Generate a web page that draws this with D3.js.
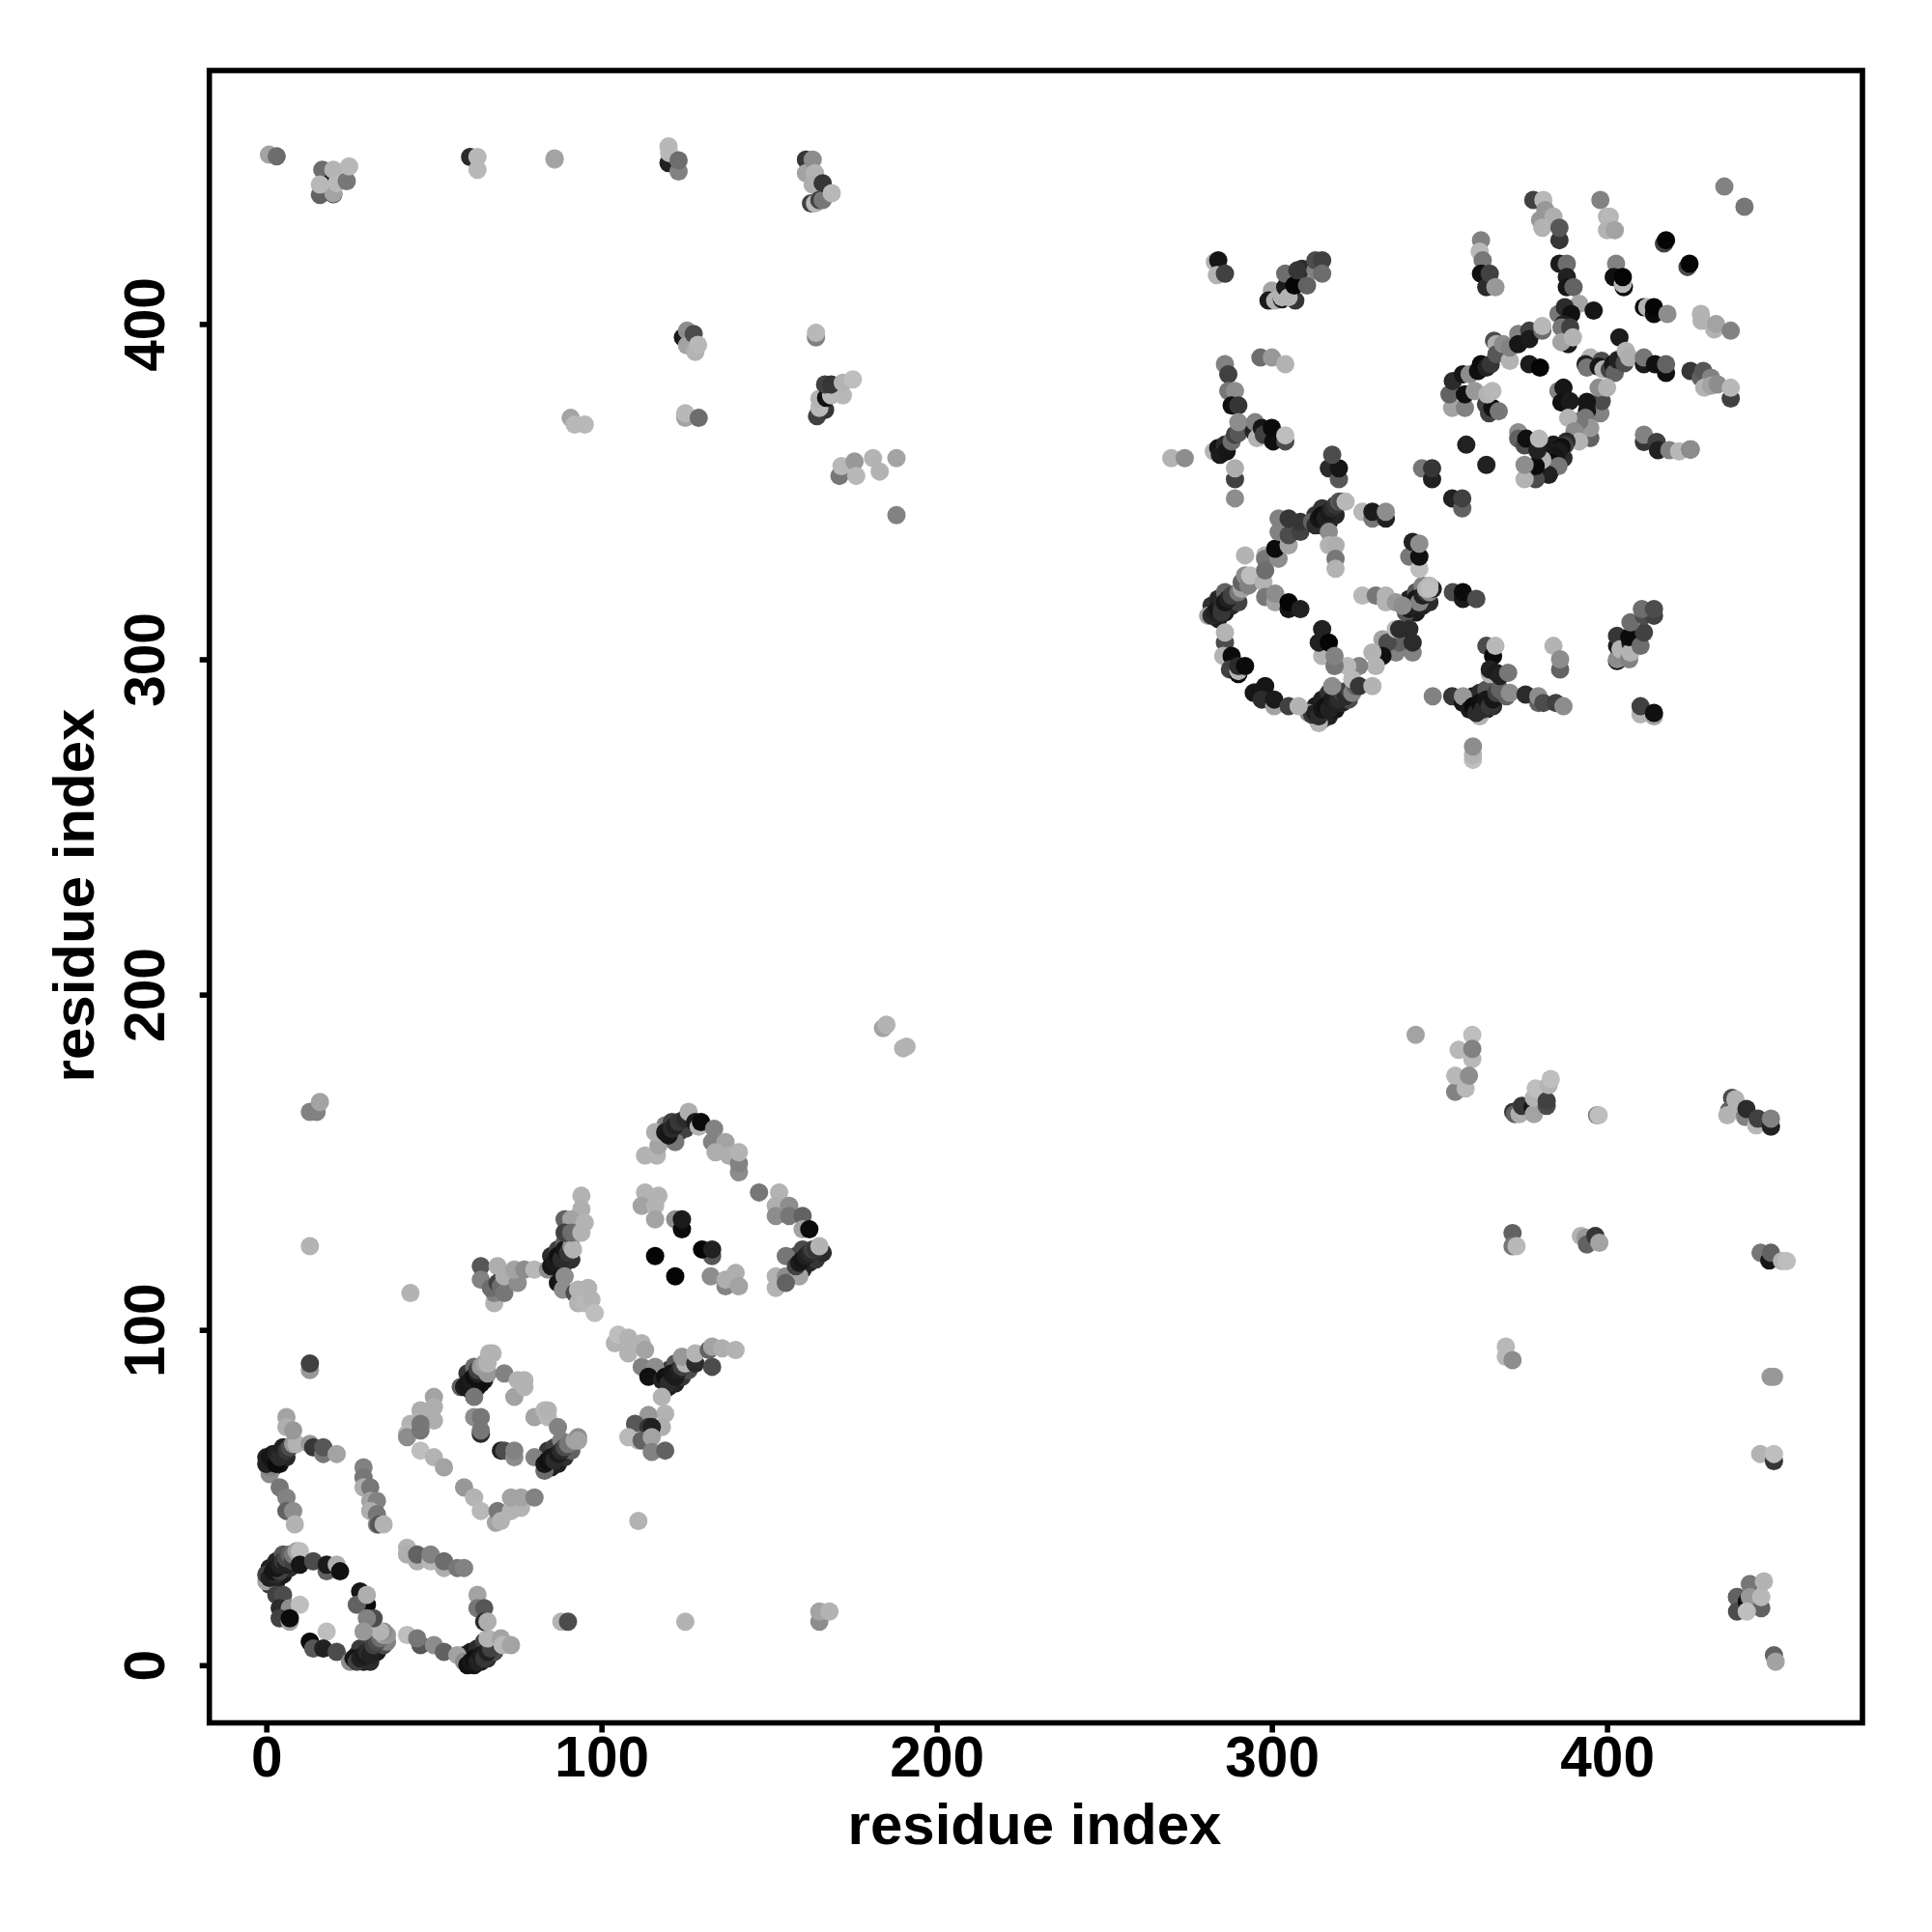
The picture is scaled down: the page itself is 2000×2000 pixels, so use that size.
<!DOCTYPE html>
<html><head><meta charset="utf-8"><script src="https://cdnjs.cloudflare.com/ajax/libs/d3/7.8.5/d3.min.js"></script>
<style>html,body{margin:0;background:#fff}svg{display:block}text{font-family:"Liberation Sans",Arial,sans-serif;font-weight:bold;fill:#000}</style>
</head><body><svg id="c" width="2000" height="2000"></svg>
<script>
const tickValues=[0,100,200,300,400];
const axisTitle="residue index";
// each contact: [residue x, residue y, grey level]
const strandWidth=[[2,59,25],[4,60,20],[5,62,30],[6,62,35],[0,62,30],[2,63,25],[1,24,50],[3,25,30],[5,27,25],[7,29,40],[1,29,30],[3,31,35],[5,33,80],[7,31,70],[27,3,35],[29,1,30],[31,1,40],[33,4,25],[35,6,70],[30,6,50],[28,5,55],[32,8,90],[36,7,120],[62,0,20],[64,1,25],[66,2,40],[68,4,70],[59,3,30],[61,4,25],[63,5,40],[65,7,60],[68,6,110],[85,59,25],[87,60,30],[89,62,45],[91,64,90],[84,64,50],[86,65,60],[88,67,120],[61,82,25],[63,83,20],[65,85,30],[66,87,60],[60,87,50],[62,89,100],[87,118,25],[89,120,35],[91,121,45],[85,122,40],[87,124,60],[89,126,90],[120,83,25],[122,84,30],[124,86,50],[126,88,70],[118,87,40],[120,88,50],[122,90,80],[121,157,30],[123,159,40],[125,160,60],[119,161,120],[121,162,60],[160,118,30],[162,120,35],[164,121,50],[158,122,60],[160,124,70],[166,123,40],[284,312,30],[286,314,25],[288,316,35],[290,317,60],[282,316,45],[284,318,35],[286,320,90],[315,340,25],[317,341,20],[319,343,35],[313,343,50],[315,345,50],[343,314,25],[345,316,30],[347,317,40],[341,318,30],[343,320,80],[345,322,120],[315,282,40],[317,283,30],[319,285,20],[321,287,35],[323,288,70],[313,286,25],[315,288,30],[317,290,45],[319,291,80],[362,284,30],[364,285,25],[366,286,40],[358,288,30],[360,289,25],[362,290,40],[364,291,80],[381,356,20],[383,356,30],[385,359,30],[387,360,40],[380,361,70],[382,362,15],[384,364,25]];
const blockA=[[0,25,150],[0,27,60],[1,26,30],[3,27,40],[2,28,20],[4,28,60],[3,29,20],[4,30,30],[5,31,50],[6,30,30],[6,32,70],[7,33,90],[8,31,60],[8,33,110],[10,32,150],[9,34,150],[10,34,175],[10,30,20],[14,31,70],[18,28,90],[18,30,25],[21,30,160],[22,28,15],[3,21,60],[5,21,70],[4,17,40],[7,17,130],[10,18,175],[4,14,60],[7,13,150],[7,14,10],[13,7,130],[13,7,10],[18,10,175],[14,5,80],[17,5,30],[21,4,70],[25,1,130],[26,2,20],[27,1,60],[28,2,30],[29,3,25],[30,4,40],[31,3,30],[32,6,60],[33,7,70],[34,8,100],[35,9,150],[36,9,140],[35,10,130],[34,10,165],[28,22,20],[30,18,10],[27,18,90],[30,21,160],[32,14,70],[30,14,120],[29,10,140]];
const blockB=[[29,59,120],[29,56,110],[29,53,160],[31,53,110],[31,49,150],[33,49,120],[31,46,160],[33,45,110],[33,42,130],[33.5,42,80],[35,42,165],[1,57,130],[1,59,120],[0,60,30],[1,62,20],[2,61,20],[3,60,10],[3,63,30],[4,62,40],[5,65,30],[6,64,50],[7,65,70],[8,66,140],[9,66,165],[6,74,150],[6,71,160],[8,70,140],[4,53,110],[6,50,120],[6,46,90],[8,46,130],[8.5,42,165],[13,66,140],[14,65,50],[17,63,110],[17,65,80],[21,63,150],[13,88,140],[13,90,60],[43,111,165],[111,43,165],[42,35,165],[42,33,160],[45,31,160],[45,33,90],[49,31,170],[49,33,120],[53,29,160],[53,31,100],[57,29,110],[59,29,120],[42,9,175],[46,6,80],[45,8,110],[50,6,130],[53,4,90],[57,3,150],[59,1,130],[60,0,15],[61,1,20],[62,2,15],[63,1,30],[64,3,25],[65,2,50],[66,4,30],[67,5,60],[66,8,165],[63,21,150],[63,17,110],[65,17,80],[65,13,40],[66,13,160],[70,8,150],[70.5,6,170],[73,6,150],[88,13,165],[90,13,70],[125,13,165]];
const blockC=[[50,80,150],[50,77,160],[50,73,160],[46,76,160],[43,72,165],[46,72,110],[42,69,170],[42,68,130],[46,70,110],[46,64,175],[50,62,165],[53,59,150],[59,53,140],[62,50,165],[64,46,170],[68.5,42.5,150],[69,46,110],[70,43,165],[73,46,165],[76,47,165],[73,50,150],[76,50,150],[80,50,120],[62,74,130],[64,69,40],[64,70,110],[64,74,110],[70,64,30],[71,64,70],[74,62,130],[74,64,120],[80,74,150],[83,76,170],[84,74,170],[84,76,165],[87,71,120],[80,62,120],[83,58,100],[83,60,20],[84,61,15],[85,62,20],[86,61,40],[87,63,25],[88,64,40],[89,65,70],[90,66,110],[92,67,150],[93,68,130],[93,67,150],[58,83,90],[59,83,25],[60,84,20],[61,85,25],[64,84,15],[62,86,15],[63,87,30],[63,88,60],[64,89,140],[66,87,140],[65,90,150],[66,90,165],[66.5,93,165],[67.5,93,165],[62,80,110],[71,87,120],[74,80,150],[77,83,165],[75,85,165],[77,85,165]];
const blockD=[[64,119,80],[69,119,160],[64,115,120],[68,108,165],[68,111,120],[67,112.5,100],[69,114,60],[70,113,100],[71,111,110],[71,116,160],[75,114,130],[74,118,150],[77,118,130],[80,118,170],[84,118,130],[87,114,20],[85,119,20],[86,120,25],[87,122,15],[88,121,40],[89,124,20],[90,123,50],[91,125,130],[91.5,124,165],[89,116,130],[88.5,112,130],[94,140,165],[94,136,160],[89,133,90],[91,133,150],[95,132,165],[89,129,60],[91,129,100],[94,129,165],[92,111,70],[93,112,165],[96,112.5,165],[93,108,165],[95,108,170],[97,109,165],[98,105,175],[104,96,165],[105,98.6,175],[108,93,165],[108,97.7,165],[112,96,165],[112,89,120],[113,94,150],[116,89,130],[114,86,15],[118,85,30],[119,86,15],[120,84,40],[121,87,20],[122,86,25],[123,88,30],[124,89,60],[125,91,120],[125,90,165],[124,92,140],[128,90,40],[128,93,165],[133,89,70],[132,94,90],[133,95,150],[136,94.5,160],[140,94,165],[118,80,165],[119,75,165],[114,74.6,140],[118,71,160],[110,72,80],[114,71,50],[115,71,30],[111,67,170],[108,68,170],[112,67,90],[115,68,150],[115,63.6,120],[119,64,90]];
const blockE=[[113,152,165],[116.5,152,165],[117,155,150],[116,159,160],[122,156,110],[119,159,25],[120,158,20],[121,160,40],[122,161,30],[123,162,50],[125,163,40],[126,165,160],[128,162,25],[129,160.6,165],[129.7,162,10],[133.6,160,120],[133,156,120],[137,156,150],[134,153,160],[138,152,160],[141,147,130],[141,149.6,120],[141,153,165],[113,141,165],[112,137,150],[117,140,165],[116,137,165],[116,133,150],[122,133,130],[124,130,10],[124,133,25],[116,122,5],[122,116,5],[133,122,80],[130,124,5],[133,124,30],[132.6,116,130],[137,113,120],[137,115,160],[140,117,160],[141,113,150],[147,141,110],[153,141,165],[152,137,160],[156,137,130],[152,134,130],[156,134,110],[160,134,90],[160,130,150],[162,130,10],[155,122,110],[152,112.5,165],[152,116,165],[155,116,130],[159,116,150],[155,114,90],[158,119,60],[159,120,25],[160,121,20],[161,122,30],[162,123,40],[163,124,60],[164,124,50],[165,125,165],[13,125,165],[13,165,120],[15,165,120],[16,168,150],[165,13,130],[165,16,150],[168,16,165],[184,190,150],[185,191,165],[190,184,165],[191,184.5,165]];
const topLeft=[[0.8,450.5,150],[3.1,450,100],[16.7,446,100],[16,438.5,90],[20,438.7,70],[19,442,20],[20,439,150],[20,446,165],[16,441.6,170],[21,442,170],[24,442.6,110],[24.7,447,170],[60.8,449.8,40],[63,446,170],[63,449.8,170],[86,449,165],[86,449.4,150],[120,448,30],[120,453,170],[120.2,451,170],[123,445.5,120],[123,448.8,100],[161,449,50],[161,445,150],[163,449,130],[163.7,445,165],[163,441.6,160],[162.5,436,60],[163.7,436,170],[165,437,60],[166,437,110],[166,442,50],[168.7,439,170],[124.3,396,25],[125.5,398,130],[125.5,393.6,150],[128,391.7,165],[127.5,397,70],[128.8,393.8,170],[164,396,120],[164,397.4,170],[125,372,150],[125,373.4,170],[129,372,100],[90.8,372,150],[92,370,170],[95,370,170],[164.3,372.5,60],[166.7,374.4,50],[165,375,170],[165,377.7,165],[167,378,15],[168.5,378.7,170],[172,378.7,170],[166.7,382,60],[168.5,382,50],[172,382.5,165],[175,383.5,175],[171,354.7,110],[171.6,357.6,170],[175.5,359,140],[176,354.7,170],[181,360,165],[183,356,165],[188,360,150],[188,343,120]];
const bottomRight=[[342.9,188,150],[359.8,188,175],[355.7,183.5,170],[359.8,180.8,170],[359.8,183.8,120],[354.7,171,120],[354.7,175.8,170],[357.8,172,170],[358.8,175.8,130],[372,165,50],[372.5,164.4,90],[373.9,164.4,160],[374.6,166.8,50],[377.8,166.4,20],[378.2,164.4,150],[378.2,169.2,165],[378.7,172,175],[382,166.8,70],[382,168.3,60],[382.6,173,165],[383.2,174.8,175],[397,164,120],[397.5,164,175],[437.3,169.2,70],[436.4,165.4,90],[435.9,164,165],[438.3,168.8,165],[438.8,167.3,165],[441.2,163.5,120],[441.6,165.9,40],[444.5,161,170],[445,163,60],[448.9,160.6,30],[448.9,163,120],[371.8,128.9,90],[371.8,125,110],[373,125,170],[392.2,128,165],[393.6,127.5,140],[394,125.5,90],[396.5,128,50],[397.7,126,150],[445.8,123,110],[448.4,120.7,20],[448.9,123,90],[452.2,120.5,165],[453.6,120.5,175],[369.8,95,170],[369.8,92,170],[371.8,91,130],[448.8,86,140],[449.8,86,140],[445.7,63,165],[449.8,60.9,50],[449.8,63,175],[438.8,20.3,60],[438.8,20.3,90],[438.8,16,70],[441.7,18.9,15],[442.6,24.2,110],[442.6,20.3,140],[446,17,90],[441.7,16,175],[446,20.3,170],[446.8,25,165],[449.8,3,90],[450.3,1,150]];
const ringA=[[289,348,130],[289,353.7,60],[289,357,160],[317,357,40],[320,353.7,80],[320,357,20],[318,361,70],[344.8,357,110],[347.8,353.7,30],[347.8,357,50],[353.8,348,30],[356.8,345,90],[356.8,348,60],[364,358,30],[358,364,30],[281,313,150],[282,313,40],[283,314,30],[284,315,20],[285,316,40],[285,314,50],[286,317,20],[287,318,30],[288,319,60],[290,320,110],[291,321,150],[291,323,90],[292,325,130],[293,322,120],[292,331,165],[293.5,325,175],[297.5,323,165],[298,331,165],[298,330,110],[298,326.5,100],[302,330,130],[301,333,10],[302,342,120],[302,338,120],[305,334,150],[305,337,70],[305,342,50],[308.5,338,60],[308.5,341,50],[298,318.6,110],[301,317,150],[301,319.6,130],[305,315,20],[305,317,5],[308.5,315,30],[312,341,90],[313,340,40],[314,342,20],[315,343,15],[316,342,30],[317,344,25],[318,345,40],[319,346,50],[320,347,80],[321,347,70],[322,347,170],[317,338,130],[317,334,165],[319,334,160],[319,330,110],[319,327,165],[327,344,170],[330,342,110],[330,344,25],[334,342,30],[334,344,130],[341,330.6,110],[342,335,30],[344,327,175],[344,330.6,15],[344,334.5,130],[340,314,80],[341,315,25],[342,316,30],[343,318,20],[344,317,120],[345,319,30],[346,320,50],[347,320,130],[348,321,30],[346,321,165],[347,322,170],[347,321,175],[354,320,70],[357,318,25],[357,320,10],[361,318,70]];
const ringB=[[327,319,170],[331,319,110],[334,317,165],[334,319,165],[337,317,140],[339,316,130],[333,306,150],[337,302,120],[342,302,120],[338,305,90],[334.5,305,70],[337,309,170],[338,309,40],[341,309,40],[342,305,40],[333,301,15],[330,302,165],[331,298,165],[326,298,120],[322.5,298,170],[314,281,165],[311,284,130],[312,283.5,50],[313,284,30],[314,283,40],[315,285,20],[316,286,15],[317,285,30],[318,288,25],[319,287,30],[320,288,40],[321,290,60],[322,289,40],[323,291,60],[324,290,120],[318,292,130],[325,292,90],[326,292,130],[324,294,170],[326,292,50],[330,292,165],[315,301,165],[314,305,30],[315,309,30],[317,305,5],[318.7,298,110],[318.7,301,120],[286,305,70],[286,308,165],[285.5,301,165],[288,301,10],[287.5,297,60],[290,295.6,10],[290,296.5,165],[290,298,40],[292,298,10],[295,290.3,140],[294.6,290,20],[298,292,20],[297,288,40],[300.7,286,150],[300.7,288,25],[305,286,60],[308,286,165],[348,289,120],[353.8,289,50],[357,287,20],[357,289,140],[362,283,165],[359,285,25],[360,286,10],[361,284,40],[362,287,15],[363,285,40],[364,288,20],[365,286,50],[366,288,20],[367,290,60],[368,291,90],[370,289,90],[371,290,130],[364,304,70],[366,301,10],[365,295.6,165],[365,297,30],[367,296,25],[368,295,30],[370.5,296,110],[366.7,304,170],[375.7,289.5,40],[379.5,287,90],[379.5,289,130],[381,287,70],[384.7,287,60],[387,286,130],[384,304,165],[386,297,90],[386,300,130],[360,270,175],[360,271.5,165],[360,274,130]];
const ringC=[[403,299.5,15],[403,300,130],[403,304,25],[403,307,50],[404,303,165],[406.6,300,120],[407,304.7,30],[407,302,165],[406.6,306.6,10],[410,304,100],[411,308,60],[407,311,100],[411,313,70],[414,313,60],[410.4,315,100],[414,315,70],[410,283.6,165],[410,286,60],[414,283,150],[414,284,15],[283,418.5,165],[284,419,20],[283.6,414.6,165],[286,415,60],[300,407,140],[300,410,150],[299,407,25],[301,407,165],[303,407.4,25],[303,408,165],[304,411,25],[304,415,100],[307,407,50],[305,408,165],[306.7,411.5,5],[310.5,411.5,90],[309,416.5,40],[307.6,416,50],[313,416,120],[313,419,70],[315,419,60],[315,415,100],[286,388,120],[287,385,60],[287,380,110],[289,380,130],[288,375.7,15],[290,375.7,50],[296.6,390,100],[300,390,140],[304,388,165],[282.7,362,165],[284,363,20],[284.5,361,25],[286,364,40],[286.5,362,20],[288,365,100],[289,367,60],[290,367.5,80],[290,370.7,130],[294.6,368,30],[295,370.7,120],[295.6,366,165],[297,369,20],[297.6,367,60],[300.4,365,15],[300,369,10],[304,365,70],[304,366.8,175],[270,360,165],[274,360,130]];
const ringD=[[435,441,120],[441,435,110],[378,437,60],[381,437,170],[380,431,140],[381.6,434,140],[384,432,160],[380.7,428.7,165],[385.8,425,50],[385.8,428.7,80],[398,437,120],[400,432,165],[400.8,432,170],[400,428,165],[402.3,428,150],[417,424,60],[417.6,425,5],[424,417,70],[424.6,418,5],[362.4,425,120],[362,421.6,170],[362.9,419,110],[362.4,415,15],[364,411,40],[365,415,60],[366.7,411,140],[402.7,418,120],[402,414,15],[405,411,10],[404.7,412,170],[404.7,414,5],[385.8,418,25],[388,418,100],[388,414,30],[388,411,20],[390,411,90],[411,405,10],[412,405,165],[414,403,10],[414,405,5],[418,403,130],[391.7,406,150],[396,404,20],[385.5,403,110],[387.4,405,40],[389.3,403,15],[387,400,30],[386.4,399,110],[389,399,60],[388.4,394,25],[386.4,394.6,150],[389.8,396,165],[403.7,396,25],[428,403,165],[428.2,401,165],[432,398.4,165],[432.5,400,150],[436.9,398,120]];
const ringE=[[353.8,375,150],[353,379,90],[354,383,40],[357.6,375,120],[357.6,379,15],[357,385,20],[359,385,130],[361.5,386,15],[362.4,388,10],[364,387,30],[365.3,388,50],[366.3,395,70],[367,394,160],[367,391,80],[369,394,130],[371,389,165],[371,393,120],[373.5,397,120],[373.5,394,20],[376.8,398,60],[376.8,395.5,25],[380.7,398,100],[380.7,399.4,170],[376.8,388,25],[380,387,5],[360.5,380,140],[363.9,376,60],[364.8,373.4,60],[365.8,375,15],[364.3,379,165],[365.8,380,170],[367.7,374,110],[385.5,380,120],[387,381,20],[386.4,376.6,15],[388.9,377,25],[395,390,165],[393.6,388,30],[394,387,110],[398.4,389,70],[397.5,387.3,20],[398.9,386.4,165],[400.8,386.4,60],[401.8,388,20],[402.3,385.4,90],[403.2,389.3,30],[405.2,388.3,70],[405.6,392,165],[406.6,390,160],[411,388,25],[411,390,110],[414.3,388,15],[417.6,385.4,15],[417.6,388,90],[424.9,386,50],[428,384,90],[428.7,386,80],[431,384,120],[429,381,165],[431,381.6,150],[433,382,130],[436.9,377.8,60],[436.9,381,170],[398,373.4,120],[398.4,377,70],[397.5,381,130],[400,381,165],[394,374,20],[394,376.8,20],[393.6,372,110],[395,366,90],[395,369,140],[391.7,371,110],[388.4,372,165],[390.3,368,130],[391.7,365,165],[387.9,365,40],[387.4,363.8,60],[386.4,363.3,15],[385.5,362,25],[384.5,360.5,20],[383.5,358.5,10],[385.5,357.6,110],[382.6,355,30],[380.7,359.5,165],[378.7,353.7,70],[378.7,357.6,10],[375.4,353.7,165],[375.4,358,130],[373.5,367.7,130],[373.5,365.8,90],[375.4,363.8,70],[375.9,365.8,15],[379.2,362.4,30],[379.7,365.8,170],[411,364.8,50],[411,367,120],[414.8,364.8,60],[415.2,362.4,30],[418.6,362.4,120],[421.5,362,170],[424.9,362.6,60],[424.9,362.6,130]];
const contacts=[...strandWidth,...blockA,...blockB,...blockC,...blockD,...blockE,...topLeft,...bottomRight,...ringA,...ringB,...ringC,...ringD,...ringE];

const svg=d3.select("#c");
const x=d3.scaleLinear().domain([-17,476.2]).range([216.7,1928]);
const y=d3.scaleLinear().domain([-17.2,475.6]).range([1783.5,73]);
const grey=d3.scaleLinear().domain([0,235]).range(["#000","#fff"]).clamp(true);
svg.append("g").selectAll("circle").data(contacts).join("circle")
  .attr("cx",d=>x(d[0])).attr("cy",d=>y(d[1])).attr("r",9.5).attr("fill",d=>grey(d[2]));
svg.append("rect").attr("x",x.range()[0]).attr("y",y.range()[1])
  .attr("width",x.range()[1]-x.range()[0]).attr("height",y.range()[0]-y.range()[1])
  .attr("fill","none").attr("stroke","#000").attr("stroke-width",5.6);
const ax=svg.append("g").attr("transform",`translate(0,${y.range()[0]})`)
  .call(d3.axisBottom(x).tickValues(tickValues).tickSize(10).tickPadding(10));
const ay=svg.append("g").attr("transform",`translate(${x.range()[0]},0)`)
  .call(d3.axisLeft(y).tickValues(tickValues).tickSize(10).tickPadding(0));
[ax,ay].forEach(g=>{g.select(".domain").remove();
  g.selectAll(".tick line").attr("stroke","#000").attr("stroke-width",5.6);
  g.selectAll("text").style("font-size","58.5px").style("font-family",'"Liberation Sans"').style("font-weight","bold").attr("fill","#000");});
ax.selectAll("text").attr("dy",null).attr("y",55).attr("dominant-baseline","auto");
ay.selectAll("text").attr("x",null).attr("dy",null).attr("text-anchor","middle")
  .attr("transform","translate(-47,0) rotate(-90)").attr("y",0);
svg.append("text").attr("x",1071).attr("y",1909).attr("text-anchor","middle").attr("font-size",60).text(axisTitle);
svg.append("text").attr("transform","translate(97,927) rotate(-90)").attr("text-anchor","middle").attr("font-size",60).text(axisTitle);
</script></body></html>
